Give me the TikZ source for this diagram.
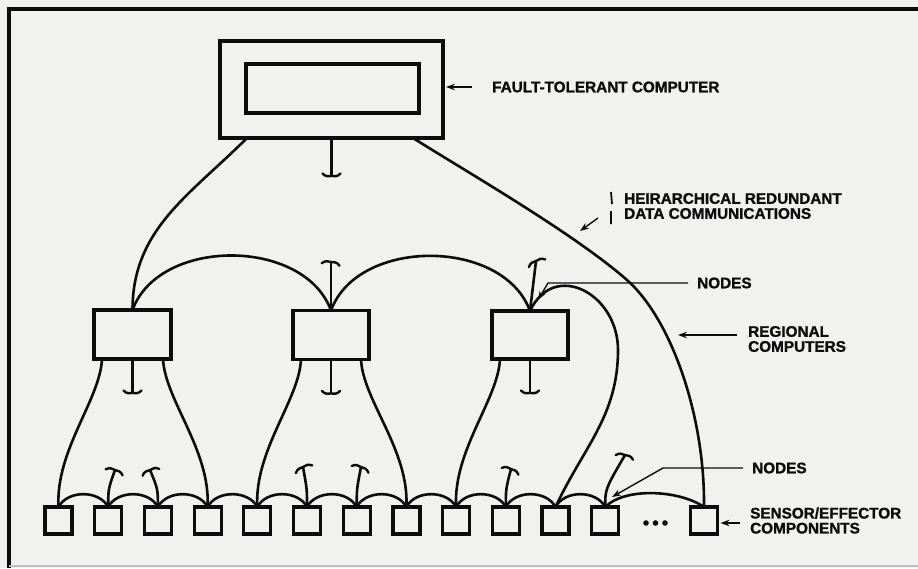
\documentclass[tikz,border=0pt]{standalone}
\usepackage{fontspec}
\setmainfont{Liberation Sans}
\newfontfamily\heavy{Liberation Sans}[BoldFeatures={FakeBold=1.3}]
\usetikzlibrary{arrows.meta,calc}
\definecolor{bg}{RGB}{241,241,239}
\definecolor{ink}{RGB}{12,12,12}
\begin{document}
\begin{tikzpicture}[x=1pt,y=1pt,
  box/.style={draw=ink,line width=3.6,rectangle,inner sep=0,outer sep=0},
  sens/.style={box,minimum width=27,minimum height=27,line width=3.2},
  wire/.style={draw=ink,line width=2.6},
  lbl/.style={font=\fontsize{15.3}{15}\selectfont\heavy\bfseries,text=ink,inner sep=0,anchor=west,align=left},
  lead/.style={draw=ink,line width=1.4,-{Stealth[length=9,width=6.5]}},
  term/.pic={\draw[ink,line width=2.4,line cap=round] (-9,-2.5) .. controls (-6,0.8) and (-3,0.5) .. (0,0) .. controls (3,0.5) and (6,0.8) .. (9,-2.5);}
]
\fill[bg] (0,0) rectangle (918,-568);
\useasboundingbox (0,0) rectangle (918,-568);
% frame
\draw[ink,line width=4.5] (9,-568) -- (9,-9) -- (918,-9);
\draw[gray!50,line width=1.2] (9,-566) -- (918,-566);

% computers
\node[box,line width=3.8,minimum width=223,minimum height=97] (ftc) at (331.5,-89.5) {};
\node[box,minimum width=173,minimum height=49] (ftcin) at (332.5,-88.5) {};
\node[box,minimum width=77,minimum height=49] (rc1) at (132.5,-334.5) {};
\node[box,minimum width=76,minimum height=49] (rc2) at (331,-335) {};
\node[box,minimum width=76,minimum height=48] (rc3) at (530,-335) {};
\foreach \i in {0,...,11} \node[sens] (s\i) at ({58.5+49.7*\i},-520.5) {};
\node[sens] (s12) at (704,-520.5) {};

% top-level links
\coordinate (ftcL) at ($(ftc.south west)+(27,0)$);
\coordinate (ftcR) at ($(ftc.south east)+(-30,0)$);
\draw[wire] (ftcL) to[out=225,in=90] (rc1.north);
\draw[wire] (ftcR) .. controls (472,-175) and (574.5,-234) .. (627,-280) .. controls (672,-320) and (705,-417) .. (s12.north);
\draw[wire] (ftc.south) -- ++(0,-38) coordinate (ftct);
\pic[rotate=180] at (ftct) {term};

% regional links
\draw[wire] (rc1.north) to[out=70,in=110] (rc2.north);
\draw[wire] (rc2.north) to[out=70,in=110] (rc3.north);
\coordinate (rcloop) at (618,-350);
\draw[wire] (rc3.north) to[out=65,in=90,looseness=1.5] (rcloop) to[out=270,in=65] (s10.north);

\coordinate (rc2t) at (331,-262);
\draw[wire] (rc2.north) -- (rc2t);
\pic[rotate=-8] at (rc2t) {term};
\coordinate (rc3t) at (536,-261);
\draw[wire] (rc3.north) .. controls +(3,25) .. (rc3t);
\pic[rotate=25] at (rc3t) {term};

% regional to sensors
\draw[wire] ($(rc1.south west)+(8,0)$) .. controls +(-2,-41) and +(-3,57) .. (s0.north);
\draw[wire] ($(rc1.south east)+(-8,0)$) .. controls +(2,-41) and +(3,57) .. (s3.north);
\draw[wire] ($(rc2.south west)+(8,0)$) .. controls +(-2,-41) and +(-3,57) .. (s4.north);
\draw[wire] ($(rc2.south east)+(-8,0)$) .. controls +(2,-41) and +(3,57) .. (s7.north);
\draw[wire] ($(rc3.south west)+(8,0)$) .. controls +(-2,-41) and +(-3,57) .. (s8.north);
\foreach \n in {rc1,rc2,rc3} {
  \draw[wire] (\n.south) -- ++(0,-34) coordinate (\n bt);
  \pic[rotate=180] at (\n bt) {term};
}

% sensor chain
\foreach \i [evaluate=\i as \j using int(\i+1)] in {0,...,10}
  \draw[wire] (s\i.north) to[out=62,in=118] (s\j.north);
\draw[wire] (s11.north) to[out=45,in=145,looseness=0.75] (s12.north);

\foreach \s/\x/\y/\r in {1/115/-470/-20, 2/150/-470/22, 5/303/-467/25, 6/361/-467/-22, 9/511/-469/-22, 11/625/-455/-15} {
  \coordinate (st\s) at (\x,\y);
  \draw[wire] (s\s.north) .. controls +(0,18) .. (st\s);
  \pic[rotate=\r] at (st\s) {term};
}

\foreach \x in {646,655.5,665} \fill[ink] (\x,-523) circle (2.8);

% labels
\node[lbl] (lftc) at (492,-87) {FAULT-TOLERANT COMPUTER};
\draw[lead] ($(lftc.west)+(-20,0)$) -- ($(ftc.east |- lftc.west)+(3,0)$);

\node[lbl] (lhier) at (624,-206) {HEIRARCHICAL REDUNDANT\\DATA COMMUNICATIONS};
\draw[ink,line width=1.8] ($(lhier.west)+(-13,14)$) -- ++(1,-12) ($(lhier.west)+(-13,-5)$) -- ++(0,-13);
\coordinate (hiertip) at (580,-231);
\draw[lead] ($(lhier.west)+(-26,-12)$) -- (hiertip);

\node[lbl] (lnodes1) at (697,-283) {NODES};
\draw[lead] ($(lnodes1.west)+(-9,0)$) -- (548,-283) -- (538,-300);

\node[lbl] (lrc) at (748,-339) {REGIONAL\\COMPUTERS};
\draw[lead] (737,-335) -- (678,-335);

\node[lbl] (lnodes2) at (752,-468) {NODES};
\draw[lead] ($(lnodes2.west)+(-9,0)$) -- (663,-468) -- (612,-497);

\node[lbl] (lse) at (750,-520.5) {SENSOR/EFFECTOR\\COMPONENTS};
\draw[lead] ($(lse.west)+(-10,-2.5)$) -- ($(s12.east |- lse.west)+(3,-2.5)$);
\end{tikzpicture}
\end{document}
